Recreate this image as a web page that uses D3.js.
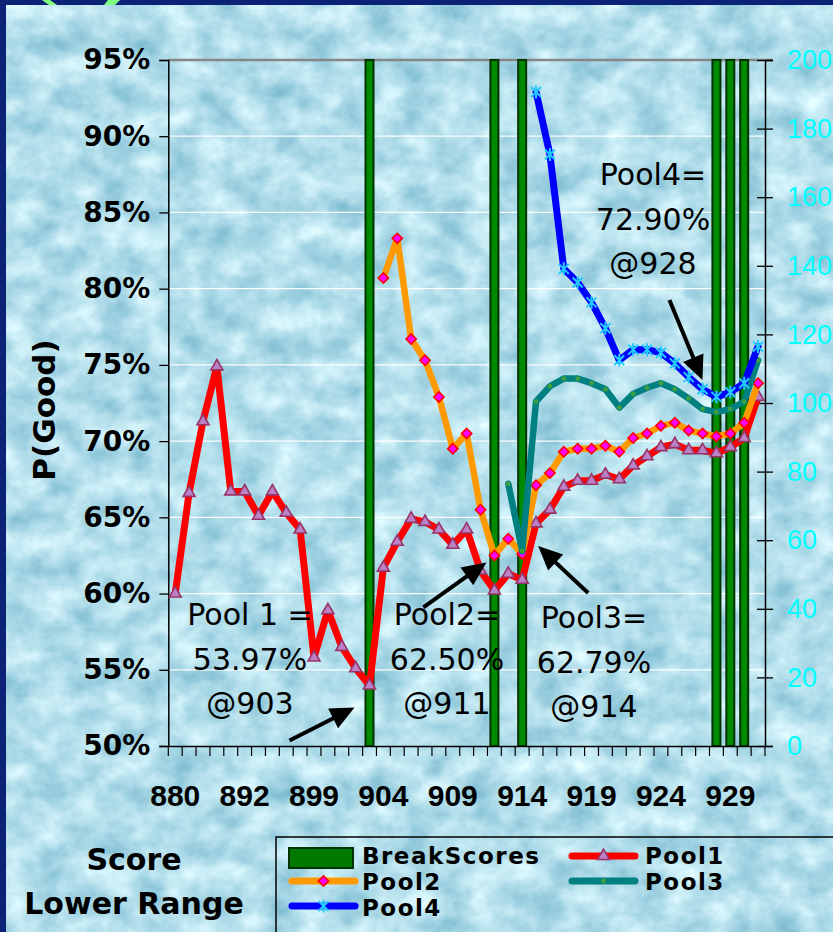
<!DOCTYPE html>
<html>
<head>
<meta charset="utf-8">
<script src="https://cdn.jsdelivr.net/npm/d3@7"></script>
<style>
  html, body { margin: 0; padding: 0; background: #bfe4ec; }
  svg { display: block; }
</style>
</head>
<body>
<svg id="chart" width="833" height="932"></svg>
<script>
// Score lower bound of each bucket (x categories)
const categories = [880, 883, 885, 887, 890, 892, 893, 894, 896, 897, 899, 900, 901, 902, 903,
  904, 905, 906, 907, 908, 909, 910, 911, 912, 913, 914, 915, 916, 917, 918, 919,
  920, 921, 922, 923, 924, 925, 926, 927, 928, 929, 930, 931];
const tickCategories = [880, 892, 899, 904, 909, 914, 919, 924, 929];

// P(Good), in percent, per pool (null = pool not defined at that score)
const pool1 = [60.0, 66.6, 71.3, 74.9, 66.7, 66.7, 65.1, 66.7, 65.3, 64.2, 55.8, 58.9, 56.5, 55.1, 53.97,
  61.7, 63.4, 64.9, 64.7, 64.2, 63.2, 64.2, 61.5, 60.2, 61.3, 60.9, 64.6, 65.5, 67.0, 67.4, 67.4,
  67.8, 67.5, 68.4, 69.0, 69.6, 69.8, 69.4, 69.4, 69.2, 69.6, 70.2, 72.9];
const pool2 = [null, null, null, null, null, null, null, null, null, null, null, null, null, null, null,
  80.7, 83.3, 76.7, 75.3, 72.9, 69.5, 70.5, 65.5, 62.50, 63.6, 62.6, 67.1, 67.9, 69.3, 69.5, 69.5,
  69.7, 69.3, 70.2, 70.5, 71.0, 71.2, 70.7, 70.5, 70.3, 70.5, 71.2, 73.8];
const pool3 = [null, null, null, null, null, null, null, null, null, null, null, null, null, null, null,
  null, null, null, null, null, null, null, null, null, 67.2, 62.79, 72.6, 73.6, 74.1, 74.1, 73.8,
  73.4, 72.2, 73.1, 73.5, 73.8, 73.4, 72.8, 72.1, 71.9, 72.1, 72.6, 75.3];
const pool4 = [null, null, null, null, null, null, null, null, null, null, null, null, null, null, null,
  null, null, null, null, null, null, null, null, null, null, null, 92.9, 88.8, 81.3, 80.4, 79.1,
  77.4, 75.3, 76.0, 76.0, 75.8, 75.1, 74.2, 73.4, 72.90, 73.2, 73.8, 76.2];

// Break scores, drawn as full-height columns on the secondary axis
const breakScores = [903, 912, 914, 928, 929, 930];
const breakValue = 200;

const leftTicks = [50, 55, 60, 65, 70, 75, 80, 85, 90, 95];
const rightTicks = [0, 20, 40, 60, 80, 100, 120, 140, 160, 180, 200];

// Callouts: which pool minimum each one points at
const callouts = [
  { pool: "pool1", at: 903, value: 53.97, lines: ["Pool 1 =", "53.97%", "@903"] },
  { pool: "pool2", at: 912, value: 62.50, lines: ["Pool2=", "62.50%", "@911"] },
  { pool: "pool3", at: 914, value: 62.79, lines: ["Pool3=", "62.79%", "@914"] },
  { pool: "pool4", at: 928, value: 72.90, lines: ["Pool4=", "72.90%", "@928"] }
];

// ---------------------------------------------------------------------------
const svg = d3.select("#chart");
const W = 833, H = 932;
const plot = { left: 168.3, right: 765, top: 60, bottom: 746 };

const x = d3.scaleBand().domain(categories).range([plot.left, plot.right]).paddingInner(0).paddingOuter(0);
const cx = c => x(c) + x.bandwidth() / 2;
const yL = d3.scaleLinear().domain([50, 95]).range([plot.bottom, plot.top]);
const yR = d3.scaleLinear().domain([0, 200]).range([plot.bottom, plot.top]);

// ---- background: watery texture ----
const defs = svg.append("defs");
const f = defs.append("filter").attr("id", "water")
  .attr("x", 0).attr("y", 0).attr("width", "100%").attr("height", "100%")
  .attr("color-interpolation-filters", "sRGB");
f.append("feTurbulence").attr("type", "fractalNoise").attr("baseFrequency", "0.03 0.036")
  .attr("numOctaves", 4).attr("seed", 5).attr("result", "n");
f.append("feColorMatrix").attr("in", "n").attr("type", "matrix")
  .attr("values", "0.5 0 0 0 0.45  0.32 0 0 0 0.71  0.24 0 0 0 0.80  0 0 0 0 1");
svg.append("rect").attr("width", W).attr("height", H).attr("filter", "url(#water)");

// slide frame
svg.append("rect").attr("x", 0).attr("y", 0).attr("width", W).attr("height", 5).attr("fill", "#0b2277");
svg.append("rect").attr("x", 0).attr("y", 0).attr("width", 6).attr("height", H).attr("fill", "#0b2277");
svg.append("path").attr("d", "M42,0 L50,0 L57,5 L49,5 Z").attr("fill", "#80ff80");
svg.append("path").attr("d", "M108,0 L120,0 L115,5 L104,5 Z").attr("fill", "#80ff80");

// ---- gridlines ----
svg.append("g").selectAll("line").data(leftTicks.filter(t => t > 50 && t < 95)).join("line")
  .attr("x1", plot.left).attr("x2", plot.right)
  .attr("y1", d => yL(d)).attr("y2", d => yL(d))
  .attr("stroke", "#ffffff").attr("stroke-width", 1.2).attr("opacity", 0.95);
svg.append("line").attr("x1", plot.left).attr("x2", plot.right + 8)
  .attr("y1", yL(95)).attr("y2", yL(95)).attr("stroke", "#868686").attr("stroke-width", 2.5);

// ---- break score columns ----
const barW = 8;
svg.append("g").selectAll("rect").data(breakScores).join("rect")
  .attr("x", d => cx(d) - barW / 2).attr("width", barW)
  .attr("y", yR(breakValue)).attr("height", yR(0) - yR(breakValue))
  .attr("fill", "#008a00").attr("stroke", "#003300").attr("stroke-width", 2);

// ---- axes ----
const fontBold = "'DejaVu Sans', Verdana, sans-serif";
const gL = svg.append("g").attr("transform", `translate(${plot.left},0)`)
  .call(d3.axisLeft(yL).tickValues(leftTicks).tickSize(9).tickPadding(9).tickFormat(d => d + "%"));
gL.select(".domain").attr("stroke", "#000").attr("stroke-width", 1.5);
gL.selectAll(".tick line").attr("stroke", "#000").attr("stroke-width", 1.3);
gL.selectAll("text").attr("font-family", fontBold).attr("font-weight", "bold")
  .attr("font-size", 28).attr("fill", "#000");

const gB = svg.append("g").attr("transform", `translate(0,${plot.bottom})`)
  .call(d3.axisBottom(x).tickValues(tickCategories).tickSize(0).tickSizeOuter(0).tickPadding(39));
gB.select(".domain").attr("stroke", "#000").attr("stroke-width", 1.5);
gB.selectAll("text").attr("font-family", "'Liberation Sans', Arial, sans-serif").attr("font-weight", "bold")
  .attr("font-size", 30).attr("fill", "#000");
gB.append("g").selectAll("line").data(categories.map(c => x(c)).concat([plot.right])).join("line")
  .attr("x1", d => d).attr("x2", d => d).attr("y1", 0).attr("y2", 10)
  .attr("stroke", "#000").attr("stroke-width", 1.2);

const gR = svg.append("g").attr("transform", `translate(${plot.right},0)`)
  .call(d3.axisRight(yR).tickValues(rightTicks).tickSize(8).tickPadding(14));
gR.select(".domain").attr("stroke", "#000").attr("stroke-width", 1.5);
gR.selectAll(".tick line").attr("stroke", "#000").attr("stroke-width", 1.3).attr("x1", -8);
gR.selectAll("text").attr("font-family", "'Liberation Sans', Arial, sans-serif")
  .attr("font-size", 27).attr("fill", "#00ffff");

// axis titles
svg.append("text").attr("transform", "translate(55,410) rotate(-90)")
  .attr("text-anchor", "middle").attr("font-family", fontBold).attr("font-weight", "bold")
  .attr("font-size", 31).text("P(Good)");
svg.append("text").attr("x", 134).attr("y", 870).attr("text-anchor", "middle")
  .attr("font-family", fontBold).attr("font-weight", "bold").attr("font-size", 30).text("Score");
svg.append("text").attr("x", 134).attr("y", 914).attr("text-anchor", "middle")
  .attr("font-family", fontBold).attr("font-weight", "bold").attr("font-size", 30).text("Lower Range");

// ---- series ----
const series = [
  { key: "pool1", name: "Pool1", values: pool1, color: "#ff0000", width: 7, marker: "triangle" },
  { key: "pool2", name: "Pool2", values: pool2, color: "#ff9900", width: 6.5, marker: "diamond" },
  { key: "pool3", name: "Pool3", values: pool3, color: "#008080", width: 6.5, marker: "dot" },
  { key: "pool4", name: "Pool4", values: pool4, color: "#0000ff", width: 7, marker: "star" }
];

function drawMarker(g, type) {
  if (type === "triangle") {
    g.append("path").attr("d", d3.symbol(d3.symbolTriangle, 62)())
      .attr("fill", "#bb82c8").attr("stroke", "#993366").attr("stroke-width", 1.6);
  } else if (type === "diamond") {
    g.append("path").attr("d", d3.symbol(d3.symbolSquare, 52)()).attr("transform", "rotate(45)")
      .attr("fill", "#ff00ff").attr("stroke", "#ff0000").attr("stroke-width", 1.6);
  } else if (type === "dot") {
    g.append("circle").attr("r", 2.4).attr("fill", "#3f9f3f");
  } else if (type === "star") {
    g.append("path").attr("d", "M-5,-5L5,5M-5,5L5,-5M0,-6.5L0,6.5")
      .attr("stroke", "#22ccff").attr("stroke-width", 2).attr("fill", "none");
  }
}

const line = d3.line().defined(d => d.v != null).x(d => cx(d.c)).y(d => yL(d.v));
series.forEach(s => {
  const pts = categories.map((c, i) => ({ c, v: s.values[i] }));
  const g = svg.append("g");
  g.append("path").datum(pts).attr("d", line).attr("fill", "none")
    .attr("stroke", s.color).attr("stroke-width", s.width)
    .attr("stroke-linejoin", "round").attr("stroke-linecap", "round");
  g.selectAll("g.m").data(pts.filter(p => p.v != null)).join("g").attr("class", "m")
    .attr("transform", d => `translate(${cx(d.c)},${yL(d.v)})`)
    .each(function () { drawMarker(d3.select(this), s.marker); });
});

// ---- callouts ----
const calloutLayout = {
  pool1: { tx: 250, ty: 625, tip: [-15, 22], tail: [-80, 55] },
  pool2: { tx: 447, ty: 625, tip: [-8, 7], tail: [-71, 52] },
  pool3: { tx: 594, ty: 628, tip: [16, -5], tail: [66, 42] },
  pool4: { tx: 653, ty: 185, tip: [-14, -17], tail: [-47, -97] }
};
const fontReg = "'DejaVu Sans', Verdana, sans-serif";
callouts.forEach(co => {
  const L = calloutLayout[co.pool];
  const px = cx(co.at), py = yL(co.value);
  const t = svg.append("text").attr("text-anchor", "middle").attr("font-family", fontReg)
    .attr("font-size", 30).attr("fill", "#000");
  co.lines.forEach((ln, i) => t.append("tspan").attr("x", L.tx).attr("y", L.ty + i * 44.5).text(ln));

  const tip = [px + L.tip[0], py + L.tip[1]];
  const tail = [px + L.tail[0], py + L.tail[1]];
  const dx = tip[0] - tail[0], dy = tip[1] - tail[1];
  const len = Math.hypot(dx, dy), ux = dx / len, uy = dy / len;
  const headL = 24, headW = 11;
  const base = [tip[0] - ux * headL, tip[1] - uy * headL];
  svg.append("line").attr("x1", tail[0]).attr("y1", tail[1]).attr("x2", base[0] + ux * 2).attr("y2", base[1] + uy * 2)
    .attr("stroke", "#000").attr("stroke-width", 4);
  svg.append("path")
    .attr("d", `M${tip[0]},${tip[1]}L${base[0] - uy * headW},${base[1] + ux * headW}L${base[0] + uy * headW},${base[1] - ux * headW}Z`)
    .attr("fill", "#000");
});

// ---- legend ----
const lg = svg.append("g");
lg.append("rect").attr("x", 276).attr("y", 837).attr("width", 620).attr("height", 120)
  .attr("fill", "none").attr("stroke", "#000").attr("stroke-width", 1.5);
const legendFont = s => s.attr("font-family", fontBold).attr("font-weight", "bold")
  .attr("font-size", 23).attr("letter-spacing", 1.5).attr("fill", "#000");
lg.append("rect").attr("x", 289).attr("y", 848).attr("width", 64).attr("height", 20)
  .attr("fill", "#007a00").attr("stroke", "#003300").attr("stroke-width", 2);
lg.append("text").attr("x", 362).attr("y", 864).text("BreakScores").call(legendFont);

const legendPos = {
  pool1: { x: 569, y: 856, tx: 645, ty: 864 },
  pool2: { x: 289, y: 881, tx: 362, ty: 890 },
  pool3: { x: 569, y: 881, tx: 645, ty: 890 },
  pool4: { x: 289, y: 906, tx: 362, ty: 916 }
};
series.forEach(s => {
  const p = legendPos[s.key];
  lg.append("line").attr("x1", p.x + 3).attr("x2", p.x + 66).attr("y1", p.y).attr("y2", p.y)
    .attr("stroke", s.color).attr("stroke-width", 7).attr("stroke-linecap", "round");
  const m = lg.append("g").attr("transform", `translate(${p.x + 34.5},${p.y})`);
  drawMarker(m, s.marker);
  lg.append("text").attr("x", p.tx).attr("y", p.ty).text(s.name).call(legendFont);
});
</script>
</body>
</html>
